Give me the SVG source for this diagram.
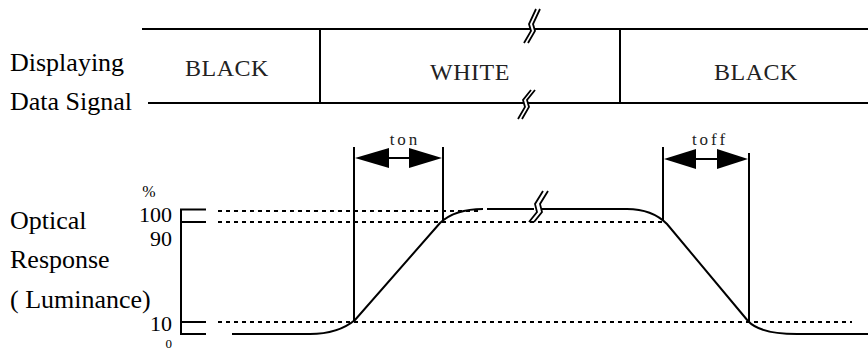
<svg xmlns="http://www.w3.org/2000/svg" width="868" height="351" viewBox="0 0 868 351">
<style>
.ln{stroke:#000;stroke-width:2;fill:none}
.br{stroke:#000;stroke-width:1.8;fill:none}
.ds{stroke:#000;stroke-width:2;stroke-dasharray:4 4;fill:none}
text{font-family:"Liberation Serif","Times New Roman","DejaVu Serif",serif;fill:#000}
.lbl{font-size:26px}
.st{font-size:24px;fill:#222;letter-spacing:0.5px}
.ax{font-size:22px}
.tm{font-size:17px;fill:#222;letter-spacing:3px}
.ah{fill:#000;stroke:none}
</style>
<rect width="868" height="351" fill="#fff"/>
<g id="labels">
<text class="lbl" x="10" y="71">Displaying</text>
<text class="lbl" x="10" y="110">Data Signal</text>
<text class="lbl" x="10" y="229">Optical</text>
<text class="lbl" x="10" y="268">Response</text>
<text class="lbl" x="10" y="308">( Luminance)</text>
</g>
<g id="signal">
<line class="ln" x1="142" y1="29" x2="531" y2="29"/>
<line class="ln" x1="535" y1="29" x2="868" y2="29"/>
<line class="ln" x1="148" y1="103" x2="524" y2="103"/>
<line class="ln" x1="528" y1="103" x2="868" y2="103"/>
<line class="ln" x1="320" y1="29" x2="320" y2="103"/>
<line class="ln" x1="620" y1="29" x2="620" y2="103"/>
<path class="br" d="M536 9 L529 24 L531 31 L524 43 M540 9 L533 24 L535 31 L528 43"/>
<path class="br" d="M531 90 L523 100 L525 107 L518 119 M535 90 L527 100 L529 107 L522 119"/>
</g>
<g id="state-black-1"><text class="st" x="227" y="76" text-anchor="middle">BLACK</text></g>
<g id="state-white"><text class="st" x="470" y="80" text-anchor="middle">WHITE</text></g>
<g id="state-black-2"><text class="st" x="756" y="80" text-anchor="middle">BLACK</text></g>
<g id="axis">
<text x="149" y="197" text-anchor="middle" style="font-size:16px">%</text>
<text class="ax" x="172" y="222" text-anchor="end">100</text>
<text class="ax" x="172" y="246" text-anchor="end">90</text>
<text class="ax" x="172" y="331" text-anchor="end">10</text>
<text x="172" y="348" text-anchor="end" style="font-size:13px">0</text>
<path class="ln" d="M206 209.5 H181 V334 H206 M181 222 H206 M181 322 H206"/>
</g>
<g id="connectors">
<line class="ds" x1="218" y1="211" x2="480" y2="211"/>
<line class="ds" x1="218" y1="222" x2="663" y2="222"/>
<line class="ds" x1="218" y1="322" x2="852" y2="322"/>
<path class="ln" d="M232 334 L310 334 Q338 334 355 320 L440 223 Q455 209 483 209"/>
<path class="ln" d="M487 209 L534 209"/>
<path class="ln" d="M542 209 L627 209 Q652 209 667 224 L748 321 Q760 334 797 334 L868 334"/>
<path class="br" d="M543 191 L535 204 L537 212 L529 222 M548 191 L540 204 L542 212 L534 222"/>
<line class="ln" x1="354" y1="147" x2="354" y2="322"/>
<line class="ln" x1="443" y1="147" x2="443" y2="222"/>
<line class="ln" x1="663" y1="147" x2="663" y2="220"/>
<line class="ln" x1="749" y1="153" x2="749" y2="322"/>
<line class="ln" x1="389" y1="158" x2="410" y2="158"/>
<polygon class="ah" points="355,158 389,148 389,168"/>
<polygon class="ah" points="442,158 409,148 409,168"/>
<line class="ln" x1="695" y1="159" x2="718" y2="159"/>
<polygon class="ah" points="664,159 696,149 696,169"/>
<polygon class="ah" points="748,159 717,149 717,169"/>
</g>
<g id="ton"><text class="tm" x="405" y="145" text-anchor="middle">ton</text></g>
<g id="toff"><text class="tm" x="710" y="145" text-anchor="middle">toff</text></g>
</svg>
